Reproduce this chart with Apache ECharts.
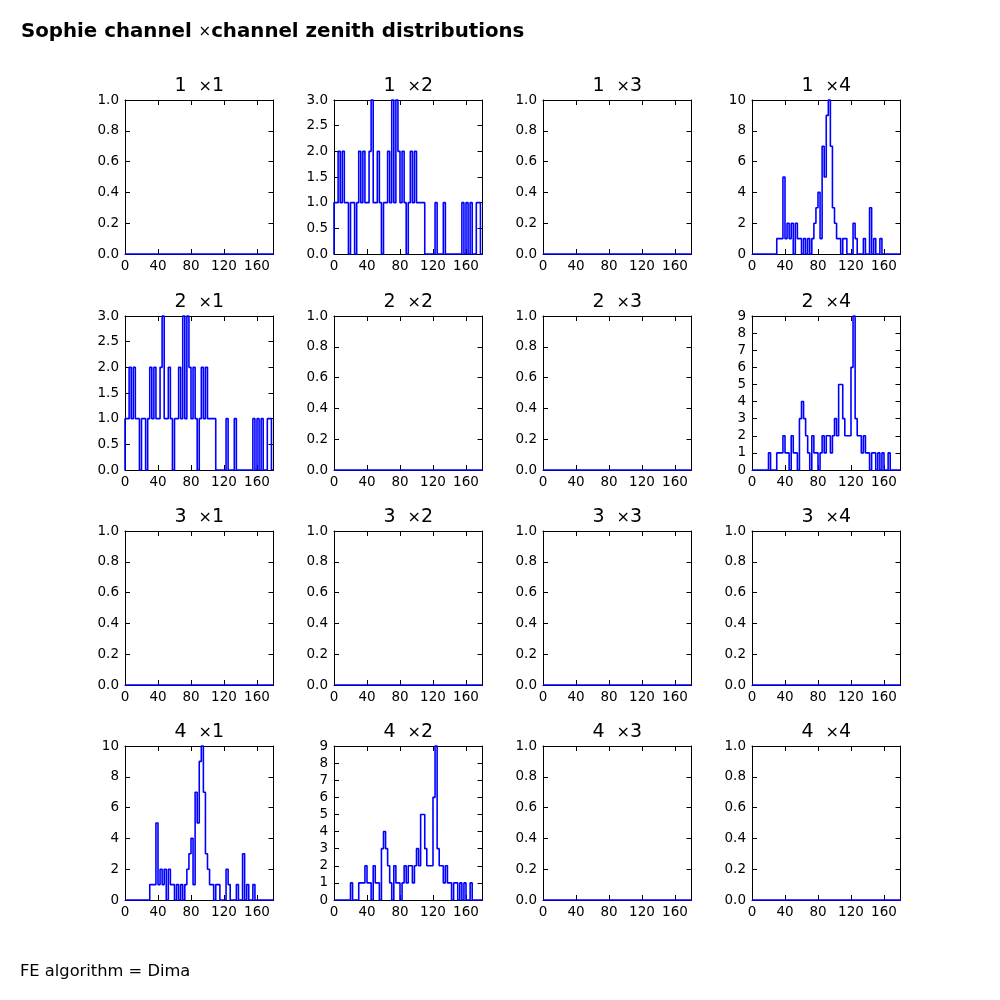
<!DOCTYPE html>
<html><head><meta charset="utf-8">
<script src="https://cdn.jsdelivr.net/npm/echarts@6/dist/echarts.min.js"></script>
<style>html,body{margin:0;padding:0;background:#fff}#c{width:1000px;height:1000px}</style>
</head><body><div id="c"></div>
<script>
// ---- data (histograms, 72 bins of 2.5 degrees over 0..180) ----
const binWidth = 2.5;
const xMin = 0, xMax = 180, xStep = 40;
const channels = [1, 2, 3, 4];

// channel 1 x channel 4  (and 4 x 1)
const countsA = [0,0,0,0,0,0,0,0,0,0, 0,0,1,1,1,5,1,2,1,2, 0,2,1,1,0,1,0,1,0,1,
                 2,3,4,1,7,5,9,10,7,3, 2,1,1,0,1,1,0,0,0,2, 1,0,0,0,1,0,0,3,0,1,
                 0,0,1,0,0,0,0,0,0,0, 0,0];
// channel 1 x channel 2  (and 2 x 1)
const countsB = [1,1,2,1,2,1,1,0,1,1, 0,1,2,1,2,1,1,2,3,1, 1,2,1,0,1,1,2,1,3,1,
                 3,2,1,2,1,0,1,2,1,2, 1,1,1,1,0,0,0,0,0,1, 0,0,0,1,0,0,0,0,0,0,
                 0,0,1,0,1,0,1,0,0,1, 1,0];
// channel 2 x channel 4  (and 4 x 2)
const countsC = [0,0,0,0,0,0,0,0,1,0, 0,0,1,1,1,2,1,1,0,2, 1,1,0,3,4,3,2,1,0,2,
                 1,1,0,1,2,1,2,2,1,2, 3,2,5,5,3,2,2,2,6,9, 3,2,2,1,2,1,1,0,1,1,
                 0,1,0,1,0,0,1,0,0,0, 0,0];
const countsEmpty = Array(72).fill(0);

// panel layout: row = first channel, col = second channel
const panelCounts = [
  [countsEmpty, countsB, countsEmpty, countsA],
  [countsB, countsEmpty, countsEmpty, countsC],
  [countsEmpty, countsEmpty, countsEmpty, countsEmpty],
  [countsA, countsC, countsEmpty, countsEmpty]
];
const yMaxes = [[1,3,1,10],[3,1,1,9],[1,1,1,1],[10,9,1,1]];
const ySteps = [[0.2,0.5,0.2,2],[0.5,0.2,0.2,1],[0.2,0.2,0.2,0.2],[2,1,0.2,0.2]];

const suptitle = ['Sophie channel ', '\u00d7', 'channel zenith distributions'];
const footer = 'FE algorithm = Dima';

// ---- layout ----
const colLeft = [125, 334, 543, 752];
const rowTop = [100, 316, 531, 746];
const pW = 148.5, pH = 154;
const FONT = 'DejaVu Sans';

function stepData(counts) {
  const pts = [[xMin, 0]];
  counts.forEach((c, i) => pts.push([xMin + i * binWidth, c]));
  pts.push([xMax, counts[counts.length - 1]]);
  pts.push([xMax, 0]);
  return pts;
}

const grid = [], xAxis = [], yAxis = [], series = [], graphic = [];
const tickStyle = { inside: true, length: 5, lineStyle: { color: '#000', width: 1 } };
const lineStyleAx = { show: true, onZero: false, lineStyle: { color: '#000', width: 1 } };
const labelFont = { color: '#000', fontFamily: FONT, fontSize: 13.5 };

for (let r = 0; r < 4; r++) {
  for (let c = 0; c < 4; c++) {
    const g = r * 4 + c;
    grid.push({ left: colLeft[c], top: rowTop[r], width: pW, height: pH,
                show: false, containLabel: false });
    const step = ySteps[r][c];
    const dec = step < 1 ? 1 : 0;
    xAxis.push({ type: 'value', gridIndex: g, min: xMin, max: xMax, interval: xStep,
      position: 'bottom', axisLine: lineStyleAx, axisTick: tickStyle, splitLine: { show: false },
      axisLabel: Object.assign({ margin: 5, showMaxLabel: false }, labelFont) });
    xAxis.push({ type: 'value', gridIndex: g, min: xMin, max: xMax, interval: xStep,
      position: 'top', axisLine: lineStyleAx, axisTick: tickStyle, splitLine: { show: false },
      axisLabel: { show: false } });
    yAxis.push({ type: 'value', gridIndex: g, min: 0, max: yMaxes[r][c], interval: step,
      position: 'left', axisLine: lineStyleAx, axisTick: tickStyle, splitLine: { show: false },
      axisLabel: Object.assign({ margin: 6, formatter: v => Number(v).toFixed(dec) }, labelFont) });
    yAxis.push({ type: 'value', gridIndex: g, min: 0, max: yMaxes[r][c], interval: step,
      position: 'right', axisLine: lineStyleAx, axisTick: tickStyle, splitLine: { show: false },
      axisLabel: { show: false } });
    series.push({ type: 'line', xAxisIndex: 2 * g, yAxisIndex: 2 * g, step: 'end',
      data: stepData(panelCounts[r][c]), symbol: 'none', clip: false, silent: true,
      lineStyle: { color: '#0000ff', width: 1.6 }, z: 5 });
    graphic.push({ type: 'text', x: colLeft[c] + pW / 2, y: rowTop[r] - 4,
      style: { text: '{n|' + channels[r] + '  }{m|\u00d7}{n|' + channels[c] + '}',
        textAlign: 'center', textVerticalAlign: 'bottom', fill: '#000',
        rich: { n: { fontFamily: FONT, fontSize: 19, fill: '#000' },
                m: { fontFamily: FONT, fontSize: 16, fill: '#000' } } } });
  }
}

graphic.push({ type: 'text', x: 21, y: 32,
  style: { text: '{b|' + suptitle[0] + '}{m|' + suptitle[1] + '}{b|' + suptitle[2] + '}',
    textVerticalAlign: 'middle', fill: '#000',
    rich: { b: { fontFamily: FONT, fontWeight: 'bold', fontSize: 19.8, fill: '#000' },
            m: { fontFamily: FONT, fontSize: 15, fill: '#000' } } } });
graphic.push({ type: 'text', x: 20, y: 972,
  style: { text: footer, textVerticalAlign: 'middle', fill: '#000', fontFamily: FONT, fontSize: 16.3 } });

const chart = echarts.init(document.getElementById('c'), null, { renderer: 'canvas' });
chart.setOption({ animation: false, backgroundColor: '#fff', grid, xAxis, yAxis, series, graphic });
</script></body></html>
